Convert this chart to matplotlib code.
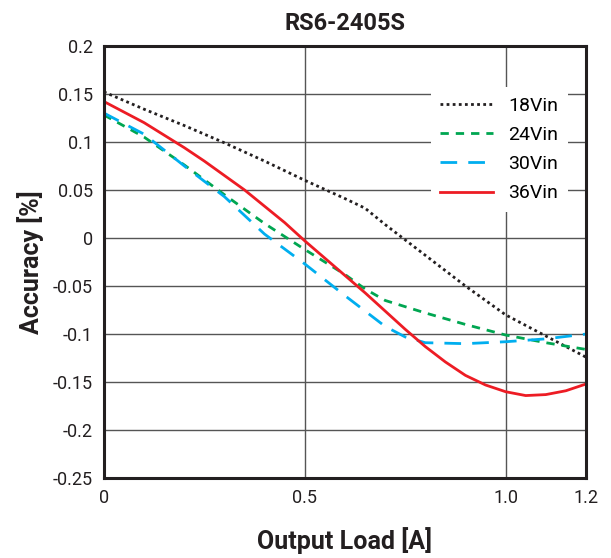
import matplotlib
matplotlib.use("Agg")
import matplotlib.pyplot as plt

plt.rcParams['font.family'] = ['Roboto', 'DejaVu Sans']

# data
x18 = [0, 0.1, 0.2, 0.3, 0.4, 0.5, 0.6, 0.65, 0.7, 0.8, 0.9, 1.0, 1.1, 1.2]
y18 = [0.152, 0.134, 0.117, 0.099, 0.080, 0.060, 0.041, 0.031, 0.014, -0.018, -0.050, -0.080, -0.102, -0.124]

x24 = [0, 0.1, 0.2, 0.3, 0.4, 0.5, 0.6, 0.65, 0.7, 0.8, 0.9, 1.0, 1.1, 1.2]
y24 = [0.128, 0.105, 0.076, 0.045, 0.015, -0.012, -0.038, -0.053, -0.065, -0.078, -0.090, -0.101, -0.109, -0.116]

x30 = [0, 0.1, 0.2, 0.3, 0.4, 0.5, 0.6, 0.7, 0.75, 0.8, 0.9, 1.0, 1.1, 1.2]
y30 = [0.130, 0.108, 0.075, 0.043, 0.004, -0.027, -0.060, -0.092, -0.103, -0.109, -0.110, -0.108, -0.105, -0.100]

x36 = [0, 0.05, 0.1, 0.15, 0.2, 0.25, 0.3, 0.35, 0.4, 0.45, 0.5, 0.55, 0.6, 0.65, 0.7,
       0.75, 0.8, 0.85, 0.9, 0.95, 1.0, 1.05, 1.1, 1.15, 1.2]
y36 = [0.142, 0.131, 0.120, 0.107, 0.094, 0.080, 0.065, 0.050, 0.033, 0.016, -0.003, -0.021,
       -0.039, -0.057, -0.076, -0.095, -0.113, -0.129, -0.143, -0.153, -0.160, -0.164, -0.163,
       -0.159, -0.152]

xticks = [0, 0.5, 1.0, 1.2]
xticklabels = ["0", "0.5", "1.0", "1.2"]
yticks = [0.2, 0.15, 0.1, 0.05, 0, -0.05, -0.1, -0.15, -0.2, -0.25]
yticklabels = ["0.2", "0.15", "0.1", "0.05", "0", "-0.05", "-0.1", "-0.15", "-0.2", "-0.25"]

fig = plt.figure(figsize=(6.11, 5.58), dpi=100)
ax = fig.add_axes([0.170, 0.143, 0.789, 0.775])

ax.plot(x18, y18, color='#231f20', lw=2, linestyle=(0, (1, 1.2)), label="18Vin")
ax.plot(x24, y24, color='#00a651', lw=2, linestyle=(0, (3, 2.5)), label="24Vin")
ax.plot(x30, y30, color='#00aeef', lw=2, linestyle=(0, (6, 4)), label="30Vin")
ax.plot(x36, y36, color='#ed1c24', lw=2, label="36Vin")

ax.set_xlim(0, 1.2)
ax.set_ylim(-0.25, 0.2)
ax.set_xticks(xticks)
ax.set_xticklabels(xticklabels)
ax.set_yticks(yticks)
ax.set_yticklabels(yticklabels)
ax.tick_params(length=0, labelsize=13, pad=8, colors='#231f20')
ax.grid(True, color='#555555', lw=1)
ax.set_axisbelow(True)
for s in ax.spines.values():
    s.set_linewidth(2.2)
    s.set_color('#231f20')

ax.set_title("RS6-2405S", fontsize=17, fontweight='bold', pad=11, color='#231f20')
ax.set_xlabel("Output Load [A]", fontsize=18, fontweight='bold', labelpad=14, color='#231f20')
ax.set_ylabel("Accuracy [%]", fontsize=18, fontweight='bold', labelpad=6, color='#231f20')

leg = ax.legend(loc='upper right', bbox_to_anchor=(0.963, 0.905), borderaxespad=0,
                frameon=True, fontsize=14, handlelength=2.7, labelspacing=0.58,
                borderpad=0.5, fancybox=False)
leg.get_frame().set_edgecolor('none')
leg.get_frame().set_facecolor('white')
leg.get_frame().set_alpha(1)

fig.savefig("out.png", dpi=100)
